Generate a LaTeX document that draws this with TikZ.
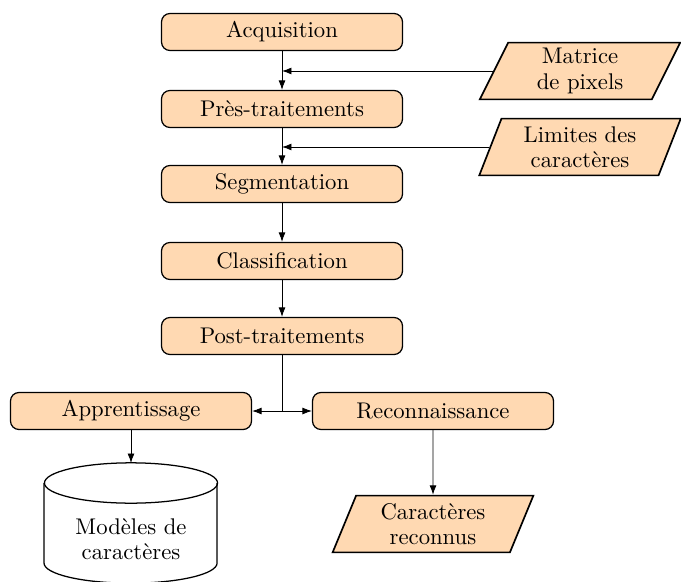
\documentclass[tikz,border=0pt]{standalone}
\usetikzlibrary{shapes.geometric,arrows.meta}
\begin{document}
\begin{tikzpicture}[x=0.476pt,y=-0.476pt,
  every node/.style={font=\fontsize{10.8pt}{12pt}\selectfont},
  proc/.style={draw, semithick, rounded corners=4pt, fill=orange!30, minimum width=114.7pt, minimum height=17.6pt, inner sep=0pt},
  io/.style={draw, thick, trapezium, trapezium left angle=70, trapezium right angle=110, trapezium stretches=true, fill=orange!30, minimum width=96pt, minimum height=27pt, align=center, inner sep=1pt},
  arr/.style={-{Latex[length=4.5pt,width=3.3pt]}}]
\useasboundingbox (0,0) rectangle (681,581);
\node[proc] (acq) at (282,32) {Acquisition};
\node[proc] (pre) at (282,109) {Près-traitements};
\node[proc] (seg) at (282,184) {Segmentation};
\node[proc] (cla) at (282,261) {Classification};
\node[proc] (post) at (282,336) {Post-traitements};
\node[proc] (app) at (131,411) {Apprentissage};
\node[proc] (rec) at (433,411) {Reconnaissance};
\node[io] (mat) at (580,71) {Matrice\\de pixels};
\node[io] (lim) at (580,147) {Limites des\\caractères};
\node[io] (car) at (433,524) {Caractères\\reconnus};
% cylinder
\draw[semithick, fill=white] (44,483) -- (44,563) arc[start angle=180, end angle=360, x radius=41.2pt, y radius=9.6pt] -- (217,483);
\draw[semithick] (131,483) ellipse [x radius=41.2pt, y radius=9.6pt];
\coordinate (dbtop) at (131,463);
\node[align=center] (db) at (131,539) {Modèles de\\caractères};
% connectors
\draw[arr] (acq) -- (pre);
\draw[arr] (pre) -- (seg);
\draw[arr] (seg) -- (cla);
\draw[arr] (cla) -- (post);
\draw[arr] (mat.west) -- (mat.west -| acq.south);
\draw[arr] (lim.west) -- (lim.west -| pre.south);
\draw (post.south) -- (post.south |- app.east) coordinate (split);
\draw[arr] (split) -- (app.east);
\draw[arr] (split) -- (rec.west);
\draw[arr] (app) -- (dbtop);
\draw[arr] (rec) -- (car);
\end{tikzpicture}
\end{document}
